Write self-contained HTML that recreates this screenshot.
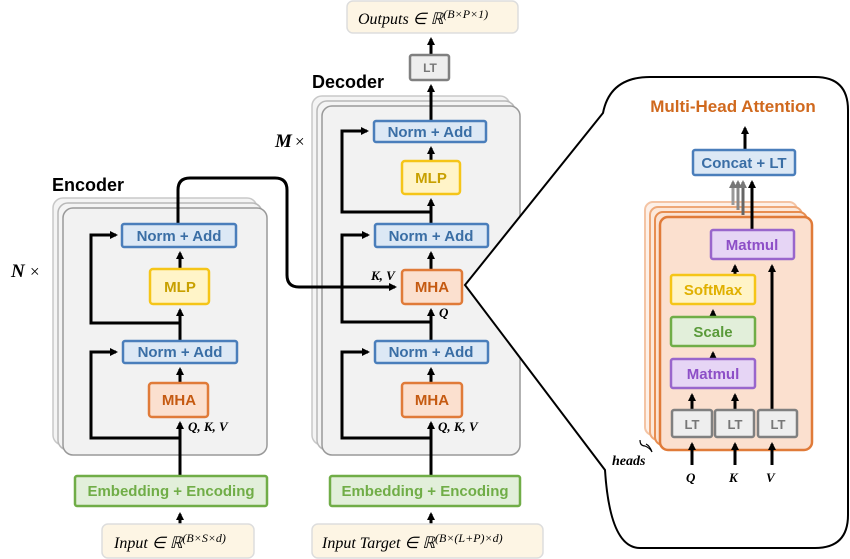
<!DOCTYPE html>
<html><head><meta charset="utf-8"><style>
body{margin:0;background:#fff}
svg{display:block}
.t{font-family:"Liberation Sans",sans-serif;font-weight:bold;font-size:15px;text-anchor:middle}
.m{font-family:"Liberation Serif",serif;font-style:italic;font-size:16px}
.mb{font-family:"Liberation Serif",serif;font-style:italic;font-weight:bold;font-size:13px}
</style></head><body>
<svg width="850" height="559" viewBox="0 0 850 559" xmlns="http://www.w3.org/2000/svg">
<defs>
<marker id="a" markerWidth="8" markerHeight="8" refX="6" refY="4" orient="auto" markerUnits="userSpaceOnUse"><path d="M0,0 L8,4 L0,8 z" fill="#000"/></marker>
<marker id="g" markerWidth="8" markerHeight="8" refX="6" refY="4" orient="auto" markerUnits="userSpaceOnUse"><path d="M0,0 L8,4 L0,8 z" fill="#777"/></marker>
</defs>
<!-- Encoder stack -->
<rect x="53" y="198" width="204" height="247" rx="10" fill="#f4f4f4" stroke="#c8c8c8" stroke-width="1.5"/>
<rect x="58" y="203" width="204" height="247" rx="10" fill="#f4f4f4" stroke="#b8b8b8" stroke-width="1.5"/>
<rect x="63" y="208" width="204" height="247" rx="10" fill="#f2f2f2" stroke="#999" stroke-width="1.5"/>
<text x="52" y="191" style="font-family:'Liberation Sans',sans-serif;font-weight:bold;font-size:18px">Encoder</text>
<text x="11" y="277" class="m" style="font-weight:bold;font-size:19px">N</text><text x="30" y="277" style="font-family:'Liberation Serif',serif;font-size:17px">×</text>
<!-- Decoder stack -->
<rect x="312" y="96" width="198" height="349" rx="10" fill="#f4f4f4" stroke="#c8c8c8" stroke-width="1.5"/>
<rect x="317" y="101" width="198" height="349" rx="10" fill="#f4f4f4" stroke="#b8b8b8" stroke-width="1.5"/>
<rect x="322" y="106" width="198" height="349" rx="10" fill="#f2f2f2" stroke="#999" stroke-width="1.5"/>
<text x="312" y="88" style="font-family:'Liberation Sans',sans-serif;font-weight:bold;font-size:18px">Decoder</text>
<text x="275" y="147" class="m" style="font-weight:bold;font-size:19px">M</text><text x="295" y="147" style="font-family:'Liberation Serif',serif;font-size:17px">×</text>

<!-- MHA panel -->
<path d="M465,285 L603,113 Q610,77 650,77 L815,77 Q848,77 848,110 L848,515 Q848,548 815,548 L640,548 Q610,548 605,470 Z" fill="#fff" stroke="#000" stroke-width="2"/>

<g fill="none" stroke="#000" stroke-width="3">
<path d="M180,524 L180,514" marker-end="url(#a)"/>
<path d="M180,476 L180,423" marker-end="url(#a)"/>
<path d="M180,438 L91,438 L91,352 L116,352" marker-end="url(#a)"/>
<path d="M180,383 L180,369" marker-end="url(#a)"/>
<path d="M180,341 L180,310" marker-end="url(#a)"/>
<path d="M180,323 L91,323 L91,235 L116,235" marker-end="url(#a)"/>
<path d="M180,269 L180,253" marker-end="url(#a)"/>
<path d="M178,224 L178,190 Q178,178 190,178 L275,178 Q287,178 287,190 L287,275 Q287,287 299,287 L395,287" marker-end="url(#a)"/>
<path d="M431,524 L431,514" marker-end="url(#a)"/>
<path d="M431,476 L431,423" marker-end="url(#a)"/>
<path d="M431,438 L342,438 L342,352 L368,352" marker-end="url(#a)"/>
<path d="M431,383 L431,369" marker-end="url(#a)"/>
<path d="M431,341 L431,310" marker-end="url(#a)"/>
<path d="M431,322 L342,322 L342,235 L368,235" marker-end="url(#a)"/>
<path d="M431,270 L431,253" marker-end="url(#a)"/>
<path d="M431,224 L431,200" marker-end="url(#a)"/>
<path d="M431,212 L342,212 L342,131 L367,131" marker-end="url(#a)"/>
<path d="M431,161 L431,148" marker-end="url(#a)"/>
<path d="M431,121 L431,86" marker-end="url(#a)"/>
<path d="M431,55 L431,39" marker-end="url(#a)"/>
</g>

<rect x="645" y="202" width="152" height="233" rx="8" fill="#fdf0e8" stroke="#f4c4a4" stroke-width="2"/>
<rect x="650" y="207" width="152" height="233" rx="8" fill="#fce8da" stroke="#eea878" stroke-width="2"/>
<rect x="655" y="212" width="152" height="233" rx="8" fill="#fbe2d2" stroke="#e78d50" stroke-width="2"/>
<rect x="660" y="217" width="152" height="233" rx="8" fill="#fbe0cf" stroke="#e07b39" stroke-width="2.5"/>
<g fill="none" stroke-width="3">
<path d="M733,205 L733,182" stroke="#999" marker-end="url(#g)"/>
<path d="M738,210 L738,182" stroke="#888" marker-end="url(#g)"/>
<path d="M743,215 L743,182" stroke="#666" marker-end="url(#g)"/>
<path d="M752,230 L752,182" stroke="#000" marker-end="url(#a)"/>
<path d="M745,150 L745,128" stroke="#000" marker-end="url(#a)"/>
<path d="M735,275 L735,266" stroke="#000" marker-end="url(#a)"/>
<path d="M713,317 L713,311" stroke="#000" marker-end="url(#a)"/>
<path d="M713,359 L713,353" stroke="#000" marker-end="url(#a)"/>
<path d="M692,410 L692,395" stroke="#000" marker-end="url(#a)"/>
<path d="M735,410 L735,395" stroke="#000" marker-end="url(#a)"/>
<path d="M772,410 L772,266" stroke="#000" marker-end="url(#a)"/>
<path d="M692,465 L692,444" stroke="#000" marker-end="url(#a)"/>
<path d="M735,465 L735,444" stroke="#000" marker-end="url(#a)"/>
<path d="M772,465 L772,444" stroke="#000" marker-end="url(#a)"/>
</g>

<g stroke-width="2.5">
<rect x="122" y="224" width="114" height="23" rx="2" fill="#dce8f5" stroke="#4a7ebb"/>
<rect x="150" y="269" width="59" height="35" rx="3" fill="#fff4c8" stroke="#f5c518"/>
<rect x="123" y="341" width="114" height="22" rx="2" fill="#dce8f5" stroke="#4a7ebb"/>
<rect x="149" y="383" width="59" height="34" rx="3" fill="#fbe0cf" stroke="#e07b39"/>
<rect x="75" y="476" width="192" height="30" rx="2" fill="#e2efda" stroke="#70ad47"/>
<rect x="102" y="524" width="152" height="34" rx="6" fill="#fdf5e4" stroke="#ddd" stroke-width="1.5"/>
<rect x="374" y="121" width="112" height="21" rx="2" fill="#dce8f5" stroke="#4a7ebb"/>
<rect x="402" y="161" width="58" height="33" rx="3" fill="#fff4c8" stroke="#f5c518"/>
<rect x="375" y="224" width="113" height="23" rx="2" fill="#dce8f5" stroke="#4a7ebb"/>
<rect x="402" y="270" width="60" height="34" rx="3" fill="#fbe0cf" stroke="#e07b39"/>
<rect x="375" y="341" width="113" height="22" rx="2" fill="#dce8f5" stroke="#4a7ebb"/>
<rect x="402" y="383" width="60" height="34" rx="3" fill="#fbe0cf" stroke="#e07b39"/>
<rect x="330" y="476" width="190" height="30" rx="2" fill="#e2efda" stroke="#70ad47"/>
<rect x="312" y="524" width="231" height="34" rx="6" fill="#fdf5e4" stroke="#ddd" stroke-width="1.5"/>
<rect x="410" y="55" width="39" height="25" rx="2" fill="#eee" stroke="#808080"/>
<rect x="347" y="1" width="171" height="32" rx="6" fill="#fdf5e4" stroke="#ddd" stroke-width="1.5"/>
<rect x="693" y="150" width="102" height="25" rx="2" fill="#dce8f5" stroke="#4a7ebb"/>
<rect x="711" y="230" width="83" height="29" rx="2" fill="#e6d5f5" stroke="#9966cc"/>
<rect x="671" y="275" width="84" height="29" rx="2" fill="#fff4c8" stroke="#f5c518"/>
<rect x="671" y="317" width="84" height="29" rx="2" fill="#e2efda" stroke="#70ad47"/>
<rect x="671" y="359" width="84" height="29" rx="2" fill="#e6d5f5" stroke="#9966cc"/>
<rect x="672" y="410" width="40" height="27" rx="2" fill="#eee" stroke="#808080"/>
<rect x="715" y="410" width="39" height="27" rx="2" fill="#eee" stroke="#808080"/>
<rect x="758" y="410" width="39" height="27" rx="2" fill="#eee" stroke="#808080"/>
</g>

<g class="t">
<text x="179" y="241" fill="#3a6ea5">Norm + Add</text>
<text x="180" y="292" fill="#c8a000">MLP</text>
<text x="180" y="357" fill="#3a6ea5">Norm + Add</text>
<text x="179" y="405" fill="#c55a11">MHA</text>
<text x="171" y="496" fill="#70ad47">Embedding + Encoding</text>
<text x="430" y="137" fill="#3a6ea5">Norm + Add</text>
<text x="431" y="183" fill="#c8a000">MLP</text>
<text x="431" y="241" fill="#3a6ea5">Norm + Add</text>
<text x="432" y="292" fill="#c55a11">MHA</text>
<text x="431" y="357" fill="#3a6ea5">Norm + Add</text>
<text x="432" y="405" fill="#c55a11">MHA</text>
<text x="425" y="496" fill="#70ad47">Embedding + Encoding</text>
<text x="430" y="72" fill="#777" style="font-size:12px">LT</text>
<text x="744" y="168" fill="#3a6ea5">Concat + LT</text>
<text x="752" y="250" fill="#8d4fc7">Matmul</text>
<text x="713" y="295" fill="#e0b000">SoftMax</text>
<text x="713" y="337" fill="#5a9a3a">Scale</text>
<text x="713" y="379" fill="#8d4fc7">Matmul</text>
<text x="692" y="429" fill="#777" style="font-size:13px">LT</text>
<text x="735" y="429" fill="#777" style="font-size:13px">LT</text>
<text x="778" y="429" fill="#777" style="font-size:13px">LT</text>
<text x="733" y="112" fill="#d0691e" style="font-size:17px">Multi-Head Attention</text>
</g>
<text x="188" y="431" class="mb">Q, K, V</text>
<text x="438" y="431" class="mb">Q, K, V</text>
<text x="439" y="317" class="mb">Q</text>
<text x="371" y="280" class="mb">K, V</text>
<text x="686" y="482" class="mb">Q</text>
<text x="729" y="482" class="mb">K</text>
<text x="766" y="482" class="mb">V</text>
<text x="612" y="465" class="mb" style="font-size:14px">heads</text>
<path d="M640,440 Q640,446 645,446 Q650,448 652,452 Q650,446 646,444" fill="none" stroke="#000" stroke-width="1.2"/>
<text x="114" y="548" class="m">Input ∈ ℝ<tspan dy="-6" font-size="12">(B×S×d)</tspan></text>
<text x="322" y="548" class="m">Input Target ∈ ℝ<tspan dy="-6" font-size="12">(B×(L+P)×d)</tspan></text>
<text x="358" y="24" class="m">Outputs ∈ ℝ<tspan dy="-6" font-size="12">(B×P×1)</tspan></text>
</svg>
</body></html>
